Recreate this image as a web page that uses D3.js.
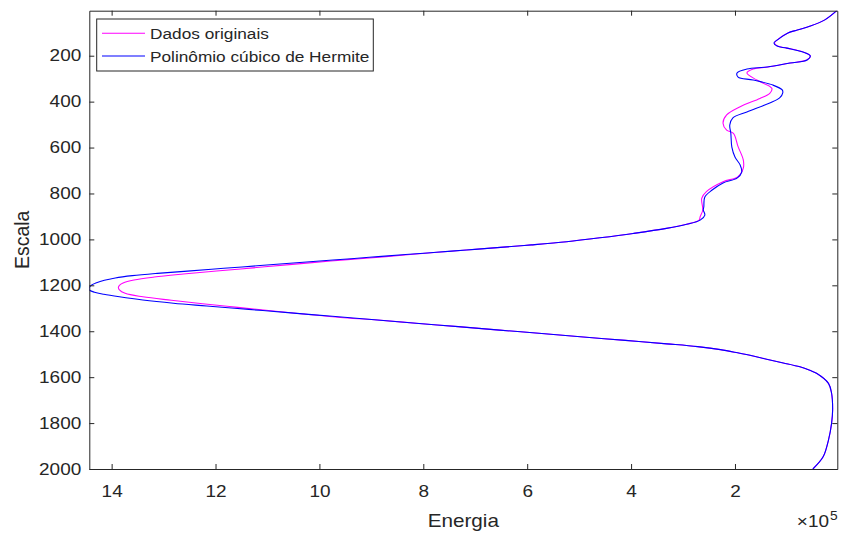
<!DOCTYPE html>
<html><head><meta charset="utf-8">
<script src="https://cdn.jsdelivr.net/npm/d3@7"></script>
<style>
body{margin:0;background:#fff}
svg{display:block}
text{font-family:"Liberation Sans",Arial,Helvetica,sans-serif;fill:#262626}
</style>
</head><body>
<svg id="chart" width="842" height="534"></svg>
<script>
// ---- data (energy in units of 1e5, scale) ----
const xTicks = [2, 4, 6, 8, 10, 12, 14];
const yTicks = [200, 400, 600, 800, 1000, 1200, 1400, 1600, 1800, 2000];
const xLabel = "Energia";
const yLabel = "Escala";
const xExponent = "5";
const legendLabels = ["Dados originais", "Polinômio cúbico de Hermite"];

const scaleHerm = [4, 44, 71, 88, 101, 132, 145, 158, 167, 184, 201, 219, 232, 249, 258, 275, 293, 306, 328, 349, 362, 384, 406, 445, 471, 502, 537, 598, 641, 676, 707, 733, 754, 785, 815, 859, 872, 894, 916, 934, 952, 974, 993, 1010, 1024, 1036, 1046, 1056, 1066, 1078, 1090, 1102, 1114, 1126, 1138, 1148, 1158, 1168, 1178, 1189, 1200, 1210, 1220, 1230, 1239, 1250, 1264, 1278, 1290, 1305, 1320, 1335, 1350, 1365, 1380, 1395, 1410, 1425, 1440, 1455, 1467, 1480, 1494, 1508, 1522, 1538, 1555, 1570, 1583, 1627, 1670, 1743, 1801, 1874, 1946, 2000];
const energyHerm = [0.04, 0.27, 0.55, 0.80, 0.98, 1.19, 1.25, 1.19, 1.00, 0.69, 0.55, 0.61, 0.94, 1.38, 1.77, 1.96, 1.94, 1.65, 1.27, 1.09, 1.08, 1.14, 1.33, 1.77, 2.04, 2.10, 2.08, 2.06, 2.00, 1.90, 1.87, 1.96, 2.23, 2.44, 2.58, 2.60, 2.61, 2.58, 2.67, 2.93, 3.32, 3.96, 4.60, 5.24, 5.92, 6.58, 7.17, 7.75, 8.34, 9.04, 9.74, 10.44, 11.14, 11.84, 12.54, 13.12, 13.60, 13.93, 14.14, 14.29, 14.39, 14.43, 14.43, 14.33, 14.15, 13.85, 13.40, 12.81, 12.17, 11.36, 10.55, 9.75, 8.94, 8.14, 7.33, 6.53, 5.72, 4.92, 4.11, 3.31, 2.72, 2.28, 1.95, 1.65, 1.39, 1.07, 0.75, 0.56, 0.43, 0.20, 0.14, 0.12, 0.14, 0.20, 0.30, 0.50];

const scaleOrig = [4, 44, 71, 88, 101, 132, 145, 158, 167, 184, 201, 219, 232, 249, 258, 275, 306, 342, 364, 386, 422, 458, 494, 524, 538, 596, 654, 690, 727, 749, 792, 821, 872, 901, 916, 934, 952, 974, 993, 1010, 1024, 1036, 1046, 1056, 1066, 1082, 1094, 1110, 1124, 1138, 1151, 1164, 1177, 1190, 1200, 1209, 1220, 1235, 1250, 1265, 1280, 1295, 1310, 1325, 1340, 1350, 1365, 1380, 1395, 1410, 1425, 1440, 1455, 1467, 1480, 1494, 1508, 1522, 1538, 1555, 1570, 1583, 1627, 1670, 1743, 1801, 1874, 1946, 2000];
const energyOrig = [0.04, 0.27, 0.55, 0.80, 0.98, 1.19, 1.24, 1.18, 1.00, 0.69, 0.55, 0.62, 0.94, 1.36, 1.65, 1.77, 1.58, 1.29, 1.33, 1.52, 1.90, 2.16, 2.23, 2.16, 2.03, 1.94, 1.84, 1.84, 1.94, 2.23, 2.55, 2.64, 2.62, 2.67, 2.69, 2.93, 3.32, 3.96, 4.60, 5.24, 5.92, 6.58, 7.17, 7.72, 8.25, 9.10, 9.78, 10.58, 11.28, 11.98, 12.62, 13.18, 13.57, 13.78, 13.85, 13.87, 13.85, 13.74, 13.40, 12.85, 12.25, 11.62, 10.98, 10.30, 9.60, 8.94, 8.14, 7.33, 6.53, 5.72, 4.92, 4.11, 3.31, 2.72, 2.28, 1.95, 1.65, 1.39, 1.07, 0.75, 0.56, 0.43, 0.20, 0.14, 0.12, 0.14, 0.20, 0.30, 0.50];

const colorOrig = "#ff00ff";
const colorHerm = "#0000ff";

// ---- layout ----
const L = 89.3, R = 837.3, T = 10.7, B = 469;
const SX = 1.15; // horizontal text stretch
const svg = d3.select("#chart");

const x = d3.scaleLinear().domain([14.43, 0.03]).range([L, R]);
const y = d3.scaleLinear().domain([4, 2000]).range([T, B]);

const axisColor = "#262626";

function styleAxis(g) {
  g.selectAll(".domain").attr("stroke", axisColor).attr("stroke-width", 1);
  g.selectAll(".tick line").attr("stroke", axisColor).attr("stroke-width", 1);
  g.selectAll("text").attr("fill", axisColor).style("font-size", "16.5px")
    .style("font-family", '"Liberation Sans", Arial, sans-serif');
}

svg.append("rect").attr("x", L).attr("y", T).attr("width", R - L).attr("height", B - T).attr("fill", "#fff");

const line = (sArr, eArr) => d3.line()
  .x(d => x(d[1]))
  .y(d => y(d[0]))
  .curve(d3.curveCatmullRom.alpha(0.5))(sArr.map((s, i) => [s, eArr[i]]));

svg.append("clipPath").attr("id", "clip").append("rect")
  .attr("x", L).attr("y", T).attr("width", R - L).attr("height", B - T);
const plot = svg.append("g").attr("clip-path", "url(#clip)");

plot.append("path").attr("d", line(scaleOrig, energyOrig))
  .attr("fill", "none").attr("stroke", colorOrig).attr("stroke-width", 1.1);
plot.append("path").attr("d", line(scaleHerm, energyHerm))
  .attr("fill", "none").attr("stroke", colorHerm).attr("stroke-width", 1.1);

// axes
const gB = svg.append("g").attr("transform", `translate(0,${B})`)
  .call(d3.axisBottom(x).tickValues(xTicks).tickFormat(d3.format("d")).tickSize(-5).tickSizeOuter(0).tickPadding(16));
styleAxis(gB);
gB.selectAll(".tick text").attr("transform", `scale(${SX},1)`);

const gT = svg.append("g").attr("transform", `translate(0,${T})`)
  .call(d3.axisTop(x).tickValues(xTicks).tickFormat("").tickSize(-5).tickSizeOuter(0));
styleAxis(gT);

const gL = svg.append("g").attr("transform", `translate(${L},0)`)
  .call(d3.axisLeft(y).tickValues(yTicks).tickFormat(d3.format("d")).tickSize(-5).tickSizeOuter(0).tickPadding(7));
styleAxis(gL);
gL.selectAll(".tick text").attr("transform", `scale(${SX},1)`);

const gR = svg.append("g").attr("transform", `translate(${R},0)`)
  .call(d3.axisRight(y).tickValues(yTicks).tickFormat("").tickSize(-5).tickSizeOuter(0));
styleAxis(gR);

// axis titles
svg.append("text").attr("transform", `translate(${(L + R) / 2},527) scale(${SX},1)`)
  .attr("text-anchor", "middle").style("font-size", "18px").text(xLabel);
svg.append("text").attr("transform", `translate(29,${(T + B) / 2}) rotate(-90)`)
  .attr("text-anchor", "middle").style("font-size", "19.5px").text(yLabel);

// exponent
svg.append("text").attr("transform", `translate(829,527) scale(${SX},1)`)
  .attr("text-anchor", "end").style("font-size", "16.5px").text("\u00d710");
svg.append("text").attr("transform", `translate(830,520) scale(${SX},1)`)
  .style("font-size", "12px").text(xExponent);

// legend
const lg = svg.append("g");
lg.append("rect").attr("x", 96.7).attr("y", 19).attr("width", 276.6).attr("height", 52)
  .attr("fill", "#fff").attr("stroke", axisColor).attr("stroke-width", 1);
const legColors = [colorOrig, colorHerm];
const legY = [33.3, 56];
legendLabels.forEach((t, i) => {
  lg.append("line").attr("x1", 102).attr("x2", 145).attr("y1", legY[i]).attr("y2", legY[i])
    .attr("stroke", legColors[i]).attr("stroke-width", 1.1);
  lg.append("text").attr("transform", `translate(150,${legY[i] + 5.5}) scale(${SX},1)`)
    .style("font-size", "15px").text(t);
});
</script>
</body></html>
